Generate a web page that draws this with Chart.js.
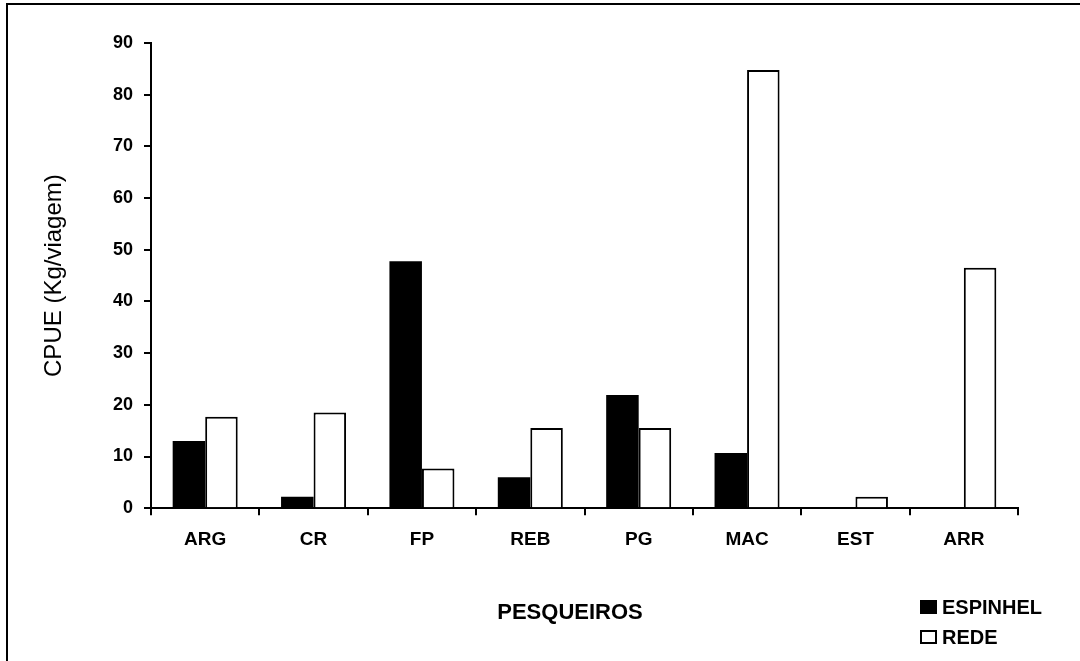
<!DOCTYPE html>
<html>
<head>
<meta charset="utf-8">
<title>CPUE por pesqueiro</title>
<script src="https://cdn.jsdelivr.net/npm/chart.js@4.4.0/dist/chart.umd.min.js"></script>
<style>
  html, body { margin: 0; padding: 0; background: #fff; }
  #wrap { position: relative; width: 1080px; height: 661px; overflow: hidden; }
  #frame { position: absolute; left: 6px; top: 3px; width: 1100px; height: 700px;
           border-top: 2px solid #000; border-left: 2px solid #000; pointer-events: none; }
  canvas { position: absolute; left: 0; top: 0; }
</style>
</head>
<body>
<div id="wrap">
  <canvas id="cpueChart" width="1080" height="661"></canvas>
  <div id="frame"></div>
</div>
<script>
// data
const pesqueiros = ['ARG', 'CR', 'FP', 'REB', 'PG', 'MAC', 'EST', 'ARR'];
const espinhel = [13, 2.2, 47.8, 6, 21.9, 10.7, 0, 0];
const rede = [17.7, 18.5, 7.7, 15.5, 15.5, 84.8, 2.2, 46.5];
const yMin = 0;
const yMax = 90;
const yStep = 10;

const FONT = '"Liberation Sans", Arial, sans-serif';

// legend + x title drawn below the plot
const legendAndTitle = {
    id: 'legendAndTitle',
    afterDraw(chart) {
        const ctx = chart.ctx;
        ctx.save();
        ctx.fillStyle = '#000';
        ctx.font = 'bold 22px ' + FONT;
        ctx.textAlign = 'center';
        ctx.textBaseline = 'middle';
        ctx.fillText('PESQUEIROS', 570, 613);

        ctx.font = 'bold 20px ' + FONT;
        ctx.textAlign = 'left';
        chart.data.datasets.forEach((ds, i) => {
            const y = 600 + i * 30;
            ctx.fillStyle = ds.backgroundColor;
            ctx.fillRect(920, y, 17, 14);
            ctx.lineWidth = 2;
            ctx.strokeStyle = '#000';
            ctx.strokeRect(921, y + 1, 15, 12);
            ctx.fillStyle = '#000';
            ctx.fillText(ds.label, 942, y + 8);
        });
        ctx.restore();
    }
};

const ctx = document.getElementById('cpueChart').getContext('2d');
const chart = new Chart(ctx, {
    type: 'bar',
    data: {
        labels: pesqueiros,
        datasets: [{
            label: 'ESPINHEL',
            data: espinhel,
            backgroundColor: '#000000',
            borderColor: '#000000',
            borderWidth: 0
        }, {
            label: 'REDE',
            data: rede,
            backgroundColor: '#ffffff',
            borderColor: '#000000',
            borderWidth: 2
        }]
    },
    options: {
        responsive: false,
        animation: false,
        layout: {
            padding: { top: 43, right: 62, bottom: 97, left: 0 }
        },
        datasets: {
            bar: { categoryPercentage: 0.6, barPercentage: 1.0 }
        },
        plugins: {
            legend: { display: false },
            tooltip: { enabled: false }
        },
        scales: {
            x: {
                grid: {
                    offset: true,
                    drawOnChartArea: false,
                    drawTicks: true,
                    tickLength: 7,
                    color: '#000',
                    lineWidth: 2
                },
                border: { display: true, color: '#000', width: 2 },
                ticks: {
                    color: '#000',
                    padding: 13,
                    font: { family: FONT, size: 19, weight: 'bold' }
                }
            },
            y: {
                min: yMin,
                max: yMax,
                afterFit: (scale) => { scale.width = 151; },
                grid: {
                    drawOnChartArea: false,
                    drawTicks: true,
                    tickLength: 7,
                    color: '#000',
                    lineWidth: 2
                },
                border: { display: true, color: '#000', width: 2 },
                ticks: {
                    stepSize: yStep,
                    color: '#000',
                    padding: 11,
                    font: { family: FONT, size: 18, weight: 'bold' }
                },
                title: {
                    display: true,
                    text: 'CPUE (Kg/viagem)',
                    color: '#000',
                    padding: { top: 40, bottom: 0 },
                    font: { family: FONT, size: 24, weight: 'normal' }
                }
            }
        }
    },
    plugins: [legendAndTitle]
});
</script>
</body>
</html>
